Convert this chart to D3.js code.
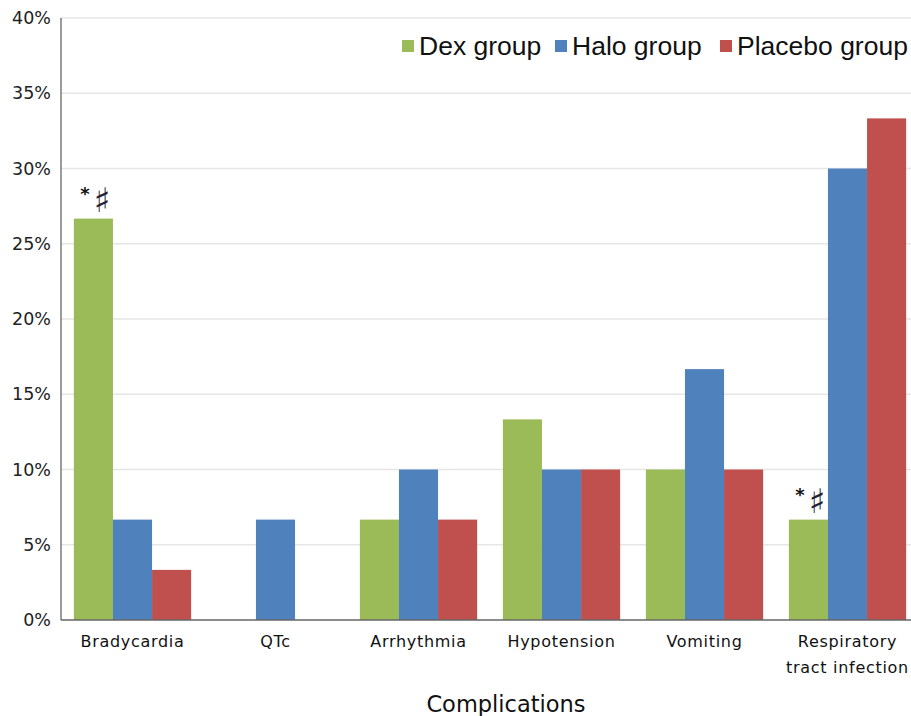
<!DOCTYPE html>
<html>
<head>
<meta charset="utf-8">
<script src="https://cdn.jsdelivr.net/npm/d3@7"></script>
<style>
  html, body { margin: 0; padding: 0; background: #fff; }
  svg { display: block; }
</style>
</head>
<body>
<svg id="chart" width="911" height="716"></svg>
<script>
// Complication rates per group (%)
const categories = ["Bradycardia", "QTc", "Arrhythmia", "Hypotension", "Vomiting", "Respiratory tract infection"];
const categoryLines = [["Bradycardia"], ["QTc"], ["Arrhythmia"], ["Hypotension"], ["Vomiting"], ["Respiratory", "tract infection"]];
const seriesNames = ["Dex group", "Halo group", "Placebo group"];
const dexValues = [26.67, 0, 6.67, 13.33, 10, 6.67];
const haloValues = [6.67, 6.67, 10, 10, 16.67, 30];
const placeboValues = [3.33, 0, 6.67, 10, 10, 33.33];
const yTicks = [0, 5, 10, 15, 20, 25, 30, 35, 40];
// significance marks above Dex bars
const markedCategories = ["Bradycardia", "Respiratory tract infection"];

const colors = ["#9BBB59", "#4F81BD", "#C0504D"];
const seriesValues = [dexValues, haloValues, placeboValues];

const svg = d3.select("#chart");
const plotLeft = 61, plotTop = 18, plotBottom = 620, plotRight = 919;

const x0 = d3.scaleBand().domain(categories).range([plotLeft, plotRight]).paddingInner(0.18).paddingOuter(0.09);
const x1 = d3.scaleBand().domain(seriesNames).range([0, x0.bandwidth()]);
const y = d3.scaleLinear().domain([0, 40]).range([plotBottom, plotTop]);

// gridlines
svg.append("g").selectAll("line").data(yTicks.filter(d => d > 0)).join("line")
  .attr("x1", plotLeft).attr("x2", 911)
  .attr("y1", d => y(d)).attr("y2", d => y(d))
  .attr("stroke", "#e6e6e6").attr("stroke-width", 1.3);

// bars
const groups = svg.append("g").selectAll("g").data(categories).join("g")
  .attr("transform", d => `translate(${x0(d)},0)`);
groups.selectAll("rect")
  .data((c, i) => seriesNames.map((s, j) => ({ s, j, v: seriesValues[j][i] })))
  .join("rect")
  .attr("x", d => x1(d.s))
  .attr("width", x1.bandwidth())
  .attr("y", d => y(d.v))
  .attr("height", d => y(0) - y(d.v))
  .attr("fill", d => colors[d.j]);

// axes
svg.append("line").attr("x1", plotLeft).attr("x2", plotLeft).attr("y1", plotTop).attr("y2", plotBottom)
  .attr("stroke", "#666").attr("stroke-width", 1.3);
svg.append("line").attr("x1", plotLeft).attr("x2", 911).attr("y1", plotBottom).attr("y2", plotBottom)
  .attr("stroke", "#666").attr("stroke-width", 1.3);

// y tick labels
const yAxis = d3.axisLeft(y).tickValues(yTicks).tickFormat(d => d + "%").tickSize(0).tickPadding(10);
const gy = svg.append("g").attr("transform", `translate(${plotLeft},0)`).call(yAxis);
gy.select(".domain").remove();
gy.selectAll("text").attr("font-family", "DejaVu Sans, sans-serif").attr("font-size", 17.5).attr("fill", "#222");

// category labels
const catG = svg.append("g");
categories.forEach((c, i) => {
  const cx = x0(c) + x0.bandwidth() / 2;
  const t = catG.append("text")
    .attr("x", cx)
    .attr("y", 647)
    .attr("text-anchor", "middle")
    .attr("font-family", "DejaVu Sans, sans-serif")
    .attr("font-size", 16)
    .attr("letter-spacing", 0.7)
    .attr("fill", "#111");
  categoryLines[i].forEach((line, k) => {
    t.append("tspan").attr("x", cx).attr("dy", k === 0 ? 0 : 26).text(line);
  });
});

// axis title
svg.append("text").attr("x", 506).attr("y", 712).attr("text-anchor", "middle")
  .attr("font-family", "DejaVu Sans, sans-serif").attr("font-size", 22.5).attr("fill", "#111")
  .text("Complications");

// significance marks
markedCategories.forEach(c => {
  const i = categories.indexOf(c);
  const bx = x0(c) + x1("Dex group");
  const by = y(dexValues[i]);
  svg.append("text").attr("x", bx + 11).attr("y", by - 19)
    .attr("text-anchor", "middle").attr("font-family", "DejaVu Sans, sans-serif")
    .attr("font-size", 18).attr("font-weight", "bold").attr("fill", "#111").text("*");
  svg.append("text").attr("x", bx + 28).attr("y", by - 7)
    .attr("text-anchor", "middle").attr("font-family", "DejaVu Sans, sans-serif")
    .attr("font-size", 34).attr("fill", "#223").text("♯");
});

// legend
const legendX = [402, 555, 720];
const legend = svg.append("g");
seriesNames.forEach((s, i) => {
  legend.append("rect").attr("x", legendX[i]).attr("y", 40).attr("width", 12).attr("height", 12).attr("fill", colors[i]);
  legend.append("text").attr("x", legendX[i] + 17).attr("y", 55)
    .attr("font-family", "Liberation Sans, Arial, sans-serif").attr("font-size", 26.5).attr("fill", "#111")
    .text(s);
});
</script>
</body>
</html>
